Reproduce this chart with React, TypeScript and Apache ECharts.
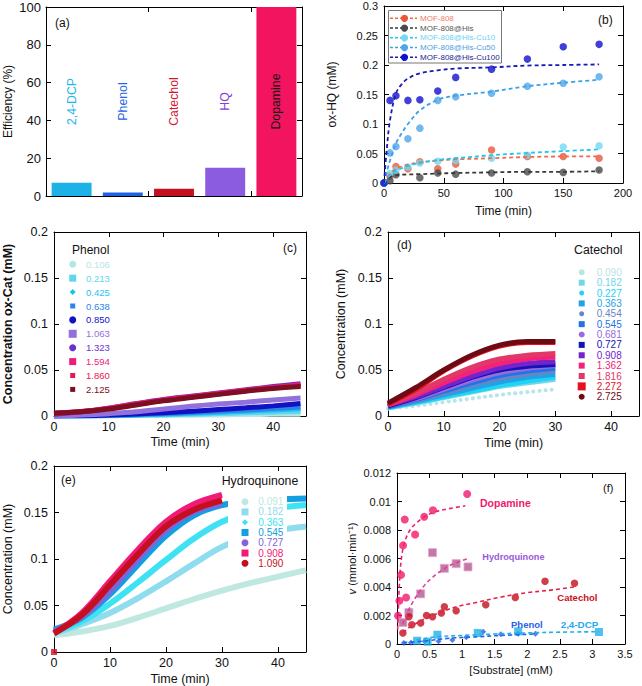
import React, { useEffect, useRef } from "react";
import * as echarts from "echarts";

const FONT = "'Liberation Sans', Arial, Helvetica, sans-serif";

// ---------- (a) efficiency ----------
const aCategories = ["2,4-DCP", "Phenol", "Catechol", "HQ", "Dopamine"];
const aValues = [7.0, 1.8, 3.9, 15.0, 100];
const aBarColors = ["#1cb2e8", "#1f63e4", "#c3111f", "#8b5cdf", "#f2145e"];
const aLabelColors = ["#22b4f0", "#2563e6", "#d0142a", "#8040d8", "#111111"];

// ---------- (b) ox-HQ vs time ----------
const bNames = ["MOF-808", "MOF-808@His", "MOF-808@His-Cu10", "MOF-808@His-Cu50", "MOF-808@His-Cu100"];
const bPointColors = ["#e8583a", "#4a4a4a", "#74d8f2", "#4ea6ea", "#1010d0"];
const bLineColors = ["#f06a4a", "#3a3a3a", "#1ec8f0", "#3aa0e8", "#1a1ab4"];
const bTextColors = ["#f07a66", "#555555", "#6ad2f0", "#4ea0e2", "#1c1c94"];
const bTimes = [0, 5, 10, 20, 30, 45, 60, 90, 120, 150, 180];
const bPoints = [
  [0, 0.012, 0.028, 0.024, 0.036, 0.024, 0.032, 0.056, 0.045, 0.045, 0.042],
  [0, 0.004, 0.014, null, 0.009, 0.017, 0.015, 0.017, 0.019, 0.018, 0.022],
  [0, 0.016, 0.022, 0.027, 0.034, 0.037, 0.038, 0.042, 0.047, 0.061, 0.063],
  [0, 0.051, 0.062, 0.075, 0.093, 0.14, 0.146, 0.152, 0.164, 0.169, 0.18],
  [0, 0.14, 0.148, 0.14, 0.141, 0.156, 0.179, 0.193, 0.21, 0.231, 0.235],
];
const bFitTimes = [0, 2, 5, 10, 15, 20, 30, 45, 60, 90, 120, 150, 180];
const bFits = [
  [0, 0.007, 0.015, 0.024, 0.028, 0.031, 0.035, 0.038, 0.04, 0.042, 0.044, 0.045, 0.045],
  [0, 0.005, 0.01, 0.013, 0.014, 0.0145, 0.015, 0.016, 0.017, 0.018, 0.019, 0.019, 0.02],
  [0, 0.006, 0.013, 0.021, 0.025, 0.029, 0.034, 0.039, 0.042, 0.047, 0.051, 0.054, 0.057],
  [0, 0.016, 0.038, 0.067, 0.085, 0.1, 0.123, 0.141, 0.148, 0.155, 0.164, 0.17, 0.175],
  [0, 0.05, 0.106, 0.152, 0.168, 0.177, 0.186, 0.191, 0.194, 0.196, 0.199, 0.2, 0.201],
];

// ---------- (c) phenol kinetics ----------
const cNames = ["0.106", "0.213", "0.425", "0.638", "0.850", "1.063", "1.323", "1.594", "1.860", "2.125"];
const cColors = ["#b4e6e6", "#5fd6ee", "#1ec2f2", "#2a86e6", "#1212c4", "#9271dc", "#6b2fd2", "#f2197a", "#e61852", "#7d0f22"];
const cShapes = ["circle", "rect", "diamond", "rect", "circle", "rect", "circle", "rect", "rect", "rect"];
const cSizes = [7, 7, 6, 5, 7, 8, 7, 7, 5, 5];
const cTimes = [0, 5, 10, 15, 20, 25, 30, 35, 40, 45];
const cValues = [
  [0, 0, 0, 0.0003, 0.0006, 0.0009, 0.0012, 0.0015, 0.0018, 0.002],
  [0, 0, 0.0003, 0.0008, 0.0013, 0.0019, 0.0026, 0.0034, 0.0042, 0.005],
  [0, 0, 0.0005, 0.0012, 0.002, 0.003, 0.004, 0.0052, 0.0065, 0.0078],
  [0, 0.0002, 0.0008, 0.0016, 0.0027, 0.0039, 0.0052, 0.0066, 0.0082, 0.0098],
  [0, 0.0003, 0.001, 0.0022, 0.0036, 0.0052, 0.007, 0.0089, 0.011, 0.0135],
  [0, 0.001, 0.0025, 0.0045, 0.0075, 0.0105, 0.013, 0.015, 0.0175, 0.0195],
  [0.002, 0.0045, 0.0085, 0.0135, 0.018, 0.0215, 0.025, 0.0285, 0.032, 0.035],
  [0.003, 0.005, 0.0085, 0.013, 0.0175, 0.021, 0.0245, 0.028, 0.031, 0.034],
  [0.003, 0.005, 0.008, 0.0125, 0.017, 0.0205, 0.024, 0.0275, 0.0305, 0.033],
  [0.003, 0.0045, 0.0075, 0.012, 0.0165, 0.02, 0.0235, 0.027, 0.03, 0.032],
];

// ---------- (d) catechol kinetics ----------
const dNames = ["0.090", "0.182", "0.227", "0.363", "0.454", "0.545", "0.681", "0.727", "0.908", "1.362", "1.816", "2.272", "2.725"];
const dColors = ["#b6e6e8", "#72d6ea", "#1ed4f4", "#22a2e4", "#6a84c4", "#2472e6", "#9a6ae0", "#1414b4", "#7424cc", "#f2227a", "#e23868", "#e4121e", "#6e0a14"];
const dShapes = ["circle", "rect", "circle", "rect", "circle", "rect", "circle", "rect", "rect", "rect", "rect", "rect", "circle"];
const dSizes = [6, 6, 5, 6, 5, 6, 6, 6, 6, 6, 6, 8, 6];
const dTimes = [0, 5, 10, 15, 20, 25, 30];
const dValues = [
  [0.008, 0.011, 0.015, 0.019, 0.023, 0.026, 0.029],
  [0.009, 0.014, 0.02, 0.026, 0.032, 0.036, 0.04],
  [0.009, 0.015, 0.021, 0.027, 0.033, 0.038, 0.042],
  [0.01, 0.016, 0.023, 0.03, 0.037, 0.042, 0.045],
  [0.01, 0.017, 0.025, 0.034, 0.041, 0.046, 0.049],
  [0.01, 0.018, 0.027, 0.036, 0.044, 0.049, 0.052],
  [0.011, 0.019, 0.029, 0.039, 0.047, 0.052, 0.055],
  [0.011, 0.02, 0.031, 0.042, 0.05, 0.054, 0.056],
  [0.012, 0.021, 0.032, 0.043, 0.052, 0.057, 0.059],
  [0.012, 0.023, 0.036, 0.048, 0.057, 0.062, 0.064],
  [0.013, 0.025, 0.04, 0.053, 0.062, 0.066, 0.068],
  [0.013, 0.029, 0.049, 0.065, 0.076, 0.08, 0.08],
  [0.014, 0.031, 0.05, 0.066, 0.077, 0.081, 0.081],
];

// ---------- (e) hydroquinone kinetics ----------
const eNames = ["0.091", "0.182", "0.363", "0.545", "0.727", "0.908", "1.090"];
const eColors = ["#bfe8e0", "#8edcee", "#3ee2f2", "#12a0e2", "#8462dc", "#f21a78", "#c4101e"];
const eShapes = ["circle", "rect", "diamond", "rect", "circle", "rect", "circle"];
const eSizes = [7, 7, 6, 7, 7, 7, 7];
const eTimes = [0, 5, 10, 15, 20, 25, 30, 35, 40, 45];
const eValues = [
  [0.018, 0.022, 0.028, 0.037, 0.047, 0.057, 0.066, 0.074, 0.081, 0.088],
  [0.02, 0.03, 0.042, 0.058, 0.076, 0.095, 0.113, 0.124, 0.131, 0.135],
  [0.022, 0.033, 0.052, 0.075, 0.099, 0.122, 0.14, 0.15, 0.155, 0.158],
  [0.024, 0.037, 0.062, 0.094, 0.125, 0.147, 0.158, 0.162, 0.164, 0.165],
  [0.022, 0.038, 0.066, 0.1, 0.131, 0.151, 0.16, null, null, null],
  [0.02, 0.042, 0.076, 0.11, 0.14, 0.159, 0.169, null, null, null],
  [0.02, 0.04, 0.072, 0.105, 0.135, 0.153, 0.163, null, null, null],
];
const eOutlier = [[0, 0]];

// ---------- (f) rate vs substrate ----------
const fDopX = [0.015, 0.036, 0.062, 0.093, 0.119, 0.139, 0.278, 0.418, 0.552, 1.077];
const fDopY = [0.00198, 0.00303, 0.00485, 0.00692, 0.00874, 0.00326, 0.00769, 0.00893, 0.00939, 0.01053];
const fDopFitX = [0.01, 0.03, 0.05, 0.08, 0.12, 0.2, 0.3, 0.45, 0.6, 0.8, 1.05];
const fDopFitY = [0.001, 0.0035, 0.0052, 0.0064, 0.0072, 0.008, 0.0085, 0.009, 0.0093, 0.0095, 0.0097];
const fHqX = [0.091, 0.182, 0.363, 0.545, 0.727, 0.908, 1.09];
const fHqY = [0.00151, 0.00221, 0.00352, 0.00641, 0.00531, 0.00564, 0.00541];
const fHqFitX = [0.09, 0.15, 0.25, 0.4, 0.55, 0.7, 0.85, 1.1];
const fHqFitY = [0.0014, 0.0021, 0.003, 0.004, 0.0047, 0.0052, 0.0056, 0.006];
const fCatX = [0.09, 0.182, 0.227, 0.363, 0.454, 0.545, 0.681, 0.727, 0.908, 1.362, 1.816, 2.272, 2.725];
const fCatY = [0.00077, 0.00191, 0.00135, 0.00147, 0.002, 0.00191, 0.00217, 0.00261, 0.00233, 0.00275, 0.00326, 0.0044, 0.00426];
const fCatFitX = [0.09, 0.2, 0.4, 0.6, 0.9, 1.2, 1.6, 2.0, 2.4, 2.72];
const fCatFitY = [0.0008, 0.0012, 0.0017, 0.0021, 0.0026, 0.0029, 0.0033, 0.0036, 0.0038, 0.004];
const fPheX = [0.106, 0.213, 0.425, 0.638, 0.85, 1.063, 1.323, 1.594, 1.86, 2.125];
const fPheY = [0.00007, 0.00009, 0.00019, 0.00019, 0.00028, 0.00047, 0.00086, 0.00068, 0.00072, 0.00072];
const fPheFitX = [0.1, 0.4, 0.8, 1.2, 1.6, 2.1];
const fPheFitY = [0.0001, 0.0002, 0.0004, 0.0005, 0.0006, 0.0007];
const fDcpX = [0.31, 0.47, 0.62, 1.24, 1.86, 3.1];
const fDcpY = [0.00023, 0.00016, 0.00065, 0.00077, 0.00089, 0.00084];
const fDcpFitX = [0.3, 0.6, 1.0, 1.5, 2.0, 2.5, 3.1];
const fDcpFitY = [0.00028, 0.0005, 0.0006, 0.0007, 0.00078, 0.00083, 0.00086];

// ---------- layout ----------
const GRIDS = [
  { left: 46, top: 7, width: 256, height: 189 },
  { left: 384, top: 6, width: 239, height: 177 },
  { left: 53, top: 232, width: 253, height: 184 },
  { left: 388, top: 232, width: 251, height: 184 },
  { left: 53, top: 466, width: 253, height: 186 },
  { left: 397, top: 473, width: 228, height: 171 },
];

const AXLINE = { show: true, onZero: false, lineStyle: { color: "#000", width: 1 } };
const AXTICK = { show: true, inside: true, length: 5, lineStyle: { color: "#000", width: 1 } };

function xPair(gi: number, cfg: any) {
  const common: any = cfg.category
    ? { type: "category", data: cfg.data, boundaryGap: true }
    : { type: "value", min: cfg.min, max: cfg.max, interval: cfg.interval };
  const main: any = {
    ...common,
    gridIndex: gi,
    position: "bottom",
    axisLine: AXLINE,
    axisTick: AXTICK,
    splitLine: { show: false },
    axisLabel: cfg.category
      ? { show: false }
      : { fontSize: cfg.fs, color: "#111", margin: cfg.margin ?? 4, showMaxLabel: cfg.hideMax ? false : null },
  };
  if (cfg.name) {
    main.name = cfg.name;
    main.nameLocation = "middle";
    main.nameGap = cfg.nameGap;
    main.nameTextStyle = { fontSize: cfg.nfs, color: "#111" };
  }
  const mirror: any = { ...common, gridIndex: gi, position: "top", axisLine: AXLINE, axisTick: AXTICK, axisLabel: { show: false }, splitLine: { show: false } };
  return [main, mirror];
}

function yPair(gi: number, cfg: any) {
  const common: any = { type: "value", min: cfg.min, max: cfg.max, interval: cfg.interval };
  const main: any = {
    ...common,
    gridIndex: gi,
    position: "left",
    axisLine: AXLINE,
    axisTick: AXTICK,
    splitLine: { show: false },
    axisLabel: { fontSize: cfg.fs, color: "#111", margin: cfg.margin ?? 6 },
    name: cfg.name,
    nameLocation: "middle",
    nameGap: cfg.nameGap,
    nameRotate: 90,
    nameTextStyle: { fontSize: cfg.nfs, color: "#111", fontWeight: cfg.bold ? "bold" : "normal", rich: cfg.rich },
  };
  const mirror: any = { ...common, gridIndex: gi, position: "right", axisLine: AXLINE, axisTick: AXTICK, axisLabel: { show: false }, splitLine: { show: false } };
  return [main, mirror];
}

function symbolEl(shape: string, cx: number, cy: number, size: number, color: string) {
  if (shape === "circle") return { type: "circle", z: 60, shape: { cx, cy, r: size / 2 }, style: { fill: color } };
  if (shape === "rect") return { type: "rect", z: 60, shape: { x: cx - size / 2, y: cy - size / 2, width: size, height: size }, style: { fill: color } };
  return {
    type: "polygon",
    z: 60,
    shape: { points: [[cx, cy - size / 2], [cx + size / 2, cy], [cx, cy + size / 2], [cx - size / 2, cy]] },
    style: { fill: color },
  };
}

function textEl(text: string, x: number, y: number, fill: string, fontSize: number, extra: any = {}) {
  return {
    type: "text",
    z: 61,
    x,
    y,
    style: { text, fill, fontSize, fontFamily: FONT, verticalAlign: "middle", align: "left", ...extra },
  };
}

function legendEls(names: string[], colors: string[], shapes: string[], sizes: number[], sx: number, tx: number, y0: number, gap: number, fs: number) {
  const out: any[] = [];
  names.forEach((n, i) => {
    const y = y0 + i * gap;
    out.push(symbolEl(shapes[i], sx, y, sizes[i], colors[i]));
    out.push(textEl(n, tx, y, colors[i], fs));
  });
  return out;
}

function pairs(xs: number[], ys: (number | null)[]) {
  const out: number[][] = [];
  xs.forEach((x, i) => {
    const y = ys[i];
    if (y !== null && y !== undefined) out.push([x, y]);
  });
  return out;
}

function buildOption() {
  const xAxis: any[] = [];
  const yAxis: any[] = [];
  xAxis.push(...xPair(0, { category: true, data: aCategories }));
  yAxis.push(...yPair(0, { min: 0, max: 100, interval: 20, fs: 13, name: "Efficiency (%)", nameGap: 32, nfs: 12, margin: 5 }));
  xAxis.push(...xPair(1, { min: 0, max: 200, interval: 50, fs: 11, name: "Time (min)", nameGap: 22, nfs: 12 }));
  yAxis.push(...yPair(1, { min: 0, max: 0.3, interval: 0.05, fs: 11, name: "ox-HQ (mM)", nameGap: 46, nfs: 12 }));
  xAxis.push(...xPair(2, { min: 0, max: 46, interval: 10, fs: 12.5, name: "Time (min)", nameGap: 19, nfs: 12.5, hideMax: true }));
  yAxis.push(...yPair(2, { min: 0, max: 0.2, interval: 0.05, fs: 12.5, name: "Concentration ox-Cat (mM)", nameGap: 40, nfs: 12.5, bold: true }));
  xAxis.push(...xPair(3, { min: 0, max: 45, interval: 10, fs: 12.5, name: "Time (min)", nameGap: 20, nfs: 12.5, hideMax: true }));
  yAxis.push(...yPair(3, { min: 0, max: 0.2, interval: 0.05, fs: 12.5, name: "Concentration (mM)", nameGap: 41, nfs: 12.5 }));
  xAxis.push(...xPair(4, { min: 0, max: 45, interval: 10, fs: 12.5, name: "Time (min)", nameGap: 20, nfs: 12.5, hideMax: true }));
  yAxis.push(...yPair(4, { min: 0, max: 0.2, interval: 0.05, fs: 12.5, name: "Concentration (mM)", nameGap: 40, nfs: 12.5 }));
  xAxis.push(...xPair(5, { min: 0, max: 3.5, interval: 0.5, fs: 11, name: "[Substrate] (mM)", nameGap: 20, nfs: 11.2 }));
  yAxis.push(
    ...yPair(5, {
      min: 0,
      max: 0.012,
      interval: 0.002,
      fs: 11,
      name: "{i|v} (mmol·min⁻¹)",
      nameGap: 40,
      nfs: 11,
      rich: { i: { fontStyle: "italic", fontSize: 11, color: "#111" } },
    })
  );

  const series: any[] = [];
  // (a)
  series.push({
    type: "bar",
    xAxisIndex: 0,
    yAxisIndex: 0,
    barWidth: "78%",
    barGap: "-100%",
    data: aValues.map((v, i) => ({ value: v, itemStyle: { color: aBarColors[i] } })),
  });
  series.push({
    type: "bar",
    xAxisIndex: 0,
    yAxisIndex: 0,
    barWidth: "78%",
    barGap: "-100%",
    silent: true,
    data: aCategories.map((c, i) => ({
      value: 100,
      itemStyle: { color: "rgba(0,0,0,0)" },
      label: { show: true, position: "inside", rotate: 90, formatter: "{b}", color: aLabelColors[i], fontSize: 12.3, fontFamily: FONT },
    })),
  });
  // (b)
  bNames.forEach((n, i) => {
    series.push({
      type: "scatter",
      name: n,
      xAxisIndex: 2,
      yAxisIndex: 2,
      symbol: "circle",
      symbolSize: 7.5,
      itemStyle: { color: bPointColors[i] },
      data: pairs(bTimes, bPoints[i]),
    });
  });
  bNames.forEach((n, i) => {
    series.push({
      type: "line",
      name: n + " fit",
      xAxisIndex: 2,
      yAxisIndex: 2,
      smooth: 0.35,
      symbol: "none",
      lineStyle: { color: bLineColors[i], width: 1.8, type: [4, 3] },
      data: pairs(bFitTimes, bFits[i]),
    });
  });
  // (c)
  cNames.forEach((n, i) => {
    series.push({
      type: "line",
      name: "Phenol " + n,
      xAxisIndex: 4,
      yAxisIndex: 4,
      smooth: 0.35,
      symbol: "none",
      lineStyle: { color: cColors[i], width: 5 },
      data: pairs(cTimes, cValues[i]),
    });
  });
  // (d)
  dNames.forEach((n, i) => {
    series.push({
      type: "line",
      name: "Catechol " + n,
      xAxisIndex: 6,
      yAxisIndex: 6,
      smooth: 0.35,
      symbol: "none",
      lineStyle: i === 0 ? { color: dColors[i], width: 4, type: [0.1, 6], cap: "round" } : { color: dColors[i], width: 5 },
      data: pairs(dTimes, dValues[i]),
    });
  });
  // (e)
  eNames.forEach((n, i) => {
    series.push({
      type: "line",
      name: "HQ " + n,
      xAxisIndex: 8,
      yAxisIndex: 8,
      smooth: 0.35,
      symbol: "none",
      lineStyle: { color: eColors[i], width: 6 },
      data: pairs(eTimes, eValues[i]),
    });
  });
  series.push({
    type: "scatter",
    name: "HQ outlier",
    xAxisIndex: 8,
    yAxisIndex: 8,
    symbol: "rect",
    symbolSize: 6,
    itemStyle: { color: "#d01020" },
    data: eOutlier,
  });
  // (f)
  const fSets = [
    { name: "Dopamine", x: fDopX, y: fDopY, fx: fDopFitX, fy: fDopFitY, sym: "circle", size: 8, color: "#f2186c", line: "#f0206c", border: undefined },
    { name: "Hydroquinone", x: fHqX, y: fHqY, fx: fHqFitX, fy: fHqFitY, sym: "rect", size: 8, color: "#b4588e", line: "#e0409a", border: "#e8a4d0" },
    { name: "Catechol", x: fCatX, y: fCatY, fx: fCatFitX, fy: fCatFitY, sym: "circle", size: 7.5, color: "#c2101c", line: "#e4204a", border: undefined },
    { name: "Phenol", x: fPheX, y: fPheY, fx: fPheFitX, fy: fPheFitY, sym: "diamond", size: 6, color: "#2062e8", line: "#2062e8", border: undefined },
    { name: "2,4-DCP", x: fDcpX, y: fDcpY, fx: fDcpFitX, fy: fDcpFitY, sym: "rect", size: 8, color: "#20b0ea", line: "#20b0ea", border: undefined },
  ];
  fSets.forEach((s) => {
    series.push({
      type: "line",
      name: s.name + " fit",
      xAxisIndex: 10,
      yAxisIndex: 10,
      smooth: 0.35,
      symbol: "none",
      lineStyle: { color: s.line, width: 1.6, type: [4, 3] },
      data: pairs(s.fx, s.fy),
    });
    series.push({
      type: "scatter",
      name: s.name,
      xAxisIndex: 10,
      yAxisIndex: 10,
      symbol: s.sym,
      symbolSize: s.size,
      itemStyle: s.border ? { color: s.color, borderColor: s.border, borderWidth: 1 } : { color: s.color },
      data: pairs(s.x, s.y),
    });
  });

  // graphic: panel labels, legends, inline labels
  const g: any[] = [];
  g.push(textEl("(a)", 55, 23, "#111", 12));
  g.push(textEl("(b)", 598, 20, "#111", 12));
  g.push(textEl("(c)", 283, 248, "#111", 12));
  g.push(textEl("(d)", 397, 245, "#111", 12));
  g.push(textEl("(e)", 61, 480, "#111", 12));
  g.push(textEl("(f)", 603, 487.5, "#111", 11));

  // (b) legend
  g.push({ type: "rect", z: 55, shape: { x: 388.5, y: 10.5, width: 113, height: 52.5 }, style: { fill: "#fff", stroke: "#777", lineWidth: 1 } });
  bNames.forEach((n, i) => {
    const y = 18.3 + i * 9.75;
    g.push({ type: "line", z: 60, shape: { x1: 390, y1: y, x2: 417, y2: y }, style: { stroke: bLineColors[i], lineWidth: 1.6, lineDash: [3, 2] } });
    g.push({ type: "circle", z: 61, shape: { cx: 404.5, cy: y, r: 3.6 }, style: { fill: bPointColors[i] } });
    g.push(textEl(n, 420, y, bTextColors[i], 8));
  });

  // (c) legend
  g.push(textEl("Phenol", 72, 249.5, "#111", 12));
  g.push(...legendEls(cNames, cColors, cShapes, cSizes, 72.7, 86, 264.3, 13.9, 9.5));
  // (d) legend
  g.push(textEl("Catechol", 574, 250, "#111", 12.3));
  g.push(...legendEls(dNames, dColors, dShapes, dSizes, 581.7, 596.7, 272.3, 10.37, 10));
  // (e) legend
  g.push({ type: "rect", z: 50, shape: { x: 228, y: 492, width: 59, height: 76 }, style: { fill: "#fff" } });
  g.push(textEl("Hydroquinone", 221.7, 480.7, "#111", 12.3));
  g.push(...legendEls(eNames, eColors, eShapes, eSizes, 245, 258.3, 501.7, 10.27, 10));

  // (f) inline labels
  g.push(textEl("Dopamine", 480, 502.7, "#f0186a", 10.5, { fontWeight: "bold" }));
  g.push(textEl("Hydroquinone", 482.3, 557, "#9a5ad8", 9.2, { fontWeight: "bold" }));
  g.push(textEl("Catechol", 557.3, 597.3, "#c8101e", 9.5, { fontWeight: "bold" }));
  g.push(textEl("Phenol", 511, 624.3, "#2a5ee6", 9.5, { fontWeight: "bold" }));
  g.push(textEl("2,4-DCP", 560.7, 624.3, "#22aaf0", 9.8, { fontWeight: "bold" }));

  return {
    animation: false,
    backgroundColor: "#ffffff",
    textStyle: { fontFamily: FONT, color: "#111" },
    grid: GRIDS.map((gr) => ({ ...gr, containLabel: false, show: false })),
    xAxis,
    yAxis,
    series,
    graphic: { elements: g },
  };
}

export default function App() {
  const ref = useRef<HTMLDivElement>(null);
  useEffect(() => {
    if (!ref.current) return;
    const chart = echarts.init(ref.current, null, { renderer: "svg" });
    chart.setOption(buildOption() as any);
    return () => chart.dispose();
  }, []);
  return (
    <div
      ref={ref}
      style={{ position: "absolute", left: 0, top: 0, width: 642, height: 686, background: "#fff" }}
    />
  );
}
